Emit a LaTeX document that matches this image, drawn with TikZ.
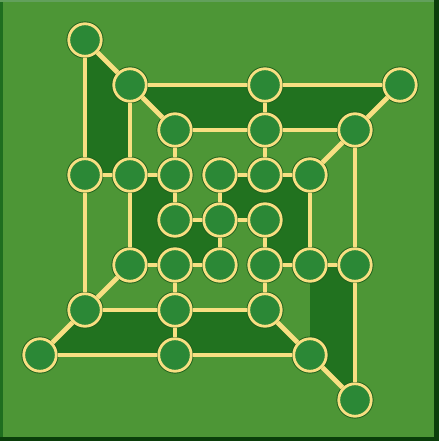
\documentclass[tikz,border=0pt]{standalone}
\usepackage{xcolor}
\usepackage{tikz}
\usetikzlibrary{backgrounds}
\definecolor{board}{HTML}{4D9636}
\definecolor{patch}{HTML}{21721F}
\definecolor{spotfill}{HTML}{2B8836}
\definecolor{ring}{HTML}{F8DF82}
\definecolor{ringedge}{HTML}{1C5E1C}
\definecolor{rimlight}{HTML}{62A05C}
\definecolor{rimdark}{HTML}{1F6E1F}
\definecolor{rimdeep}{HTML}{0B3F0B}
\tikzset{
  spot/.style  = {circle, fill=spotfill, draw=ring, line width=2.8pt,
                  minimum size=32.5pt, inner sep=0pt,
                  preaction={draw=ringedge, line width=4.6pt}},
  link/.style  = {draw=ring, line width=4.8pt},
  field/.style = {fill=patch},
}
\begin{document}
\begin{tikzpicture}[x=1pt, y=-1pt]

  \useasboundingbox (0,0) rectangle (439,441);

  \node[spot] (p10) at (85,40)   {};
  \node[spot] (p21) at (130,85)  {};
  \node[spot] (p51) at (265,85)  {};
  \node[spot] (p81) at (400,85)  {};
  \node[spot] (p32) at (175,130) {};
  \node[spot] (p52) at (265,130) {};
  \node[spot] (p72) at (355,130) {};
  \node[spot] (p13) at (85,175)  {};
  \node[spot] (p23) at (130,175) {};
  \node[spot] (p33) at (175,175) {};
  \node[spot] (p43) at (220,175) {};
  \node[spot] (p53) at (265,175) {};
  \node[spot] (p63) at (310,175) {};
  \node[spot] (p34) at (175,220) {};
  \node[spot] (p44) at (220,220) {};
  \node[spot] (p54) at (265,220) {};
  \node[spot] (p25) at (130,265) {};
  \node[spot] (p35) at (175,265) {};
  \node[spot] (p45) at (220,265) {};
  \node[spot] (p55) at (265,265) {};
  \node[spot] (p65) at (310,265) {};
  \node[spot] (p75) at (355,265) {};
  \node[spot] (p16) at (85,310)  {};
  \node[spot] (p36) at (175,310) {};
  \node[spot] (p56) at (265,310) {};
  \node[spot] (p07) at (40,355)  {};
  \node[spot] (p37) at (175,355) {};
  \node[spot] (p67) at (310,355) {};
  \node[spot] (p78) at (355,400) {};

  \begin{scope}[on background layer]
    \fill[board] (0,0) rectangle (439,441);
    \fill[rimlight] (0,0) rectangle (434,2.5);
    \fill[rimdark] (0,2.5) rectangle (3,437);
    \fill[rimdeep] (434,0) rectangle (439,441);
    \fill[rimdeep] (0,437) rectangle (439,441);
    % shaded fields
    \fill[field] (p10.center) -- (p21.center) -- (p23.center) -- (p13.center) -- cycle;
    \fill[field] (p21.center) -- (p81.center) -- (p72.center) -- (p32.center) -- cycle;
    \fill[field] (p65.center) -- (p75.center) -- (p78.center) -- (p67.center) -- cycle;
    \fill[field] (p07.center) -- (p67.center) -- (p56.center) -- (p16.center) -- cycle;
    \fill[field] (p23.center) -- (p33.center) -- (p34.center) -- (p44.center)
                 -- (p45.center) -- (p25.center) -- cycle;
    \fill[field] (p43.center) -- (p63.center) -- (p65.center) -- (p55.center)
                 -- (p54.center) -- (p44.center) -- cycle;
  \end{scope}

  \draw[link] (p10) -- (p21);
  \draw[link] (p10) -- (p13);
  \draw[link] (p13) -- (p16);
  \draw[link] (p21) -- (p51);
  \draw[link] (p51) -- (p81);
  \draw[link] (p21) -- (p32);
  \draw[link] (p21) -- (p23);
  \draw[link] (p32) -- (p52);
  \draw[link] (p52) -- (p72);
  \draw[link] (p81) -- (p72);
  \draw[link] (p72) -- (p63);
  \draw[link] (p72) -- (p75);
  \draw[link] (p51) -- (p52);
  \draw[link] (p52) -- (p53);
  \draw[link] (p32) -- (p33);
  \draw[link] (p13) -- (p23);
  \draw[link] (p23) -- (p33);
  \draw[link] (p43) -- (p53);
  \draw[link] (p53) -- (p63);
  \draw[link] (p33) -- (p34);
  \draw[link] (p34) -- (p44);
  \draw[link] (p44) -- (p54);
  \draw[link] (p43) -- (p44);
  \draw[link] (p44) -- (p45);
  \draw[link] (p23) -- (p25);
  \draw[link] (p25) -- (p35);
  \draw[link] (p35) -- (p45);
  \draw[link] (p55) -- (p65);
  \draw[link] (p65) -- (p75);
  \draw[link] (p63) -- (p65);
  \draw[link] (p54) -- (p55);
  \draw[link] (p16) -- (p25);
  \draw[link] (p16) -- (p07);
  \draw[link] (p16) -- (p36);
  \draw[link] (p36) -- (p56);
  \draw[link] (p07) -- (p37);
  \draw[link] (p37) -- (p67);
  \draw[link] (p35) -- (p36);
  \draw[link] (p36) -- (p37);
  \draw[link] (p56) -- (p67);
  \draw[link] (p67) -- (p78);
  \draw[link] (p75) -- (p78);
  \draw[link] (p55) -- (p56);

\end{tikzpicture}
\end{document}
